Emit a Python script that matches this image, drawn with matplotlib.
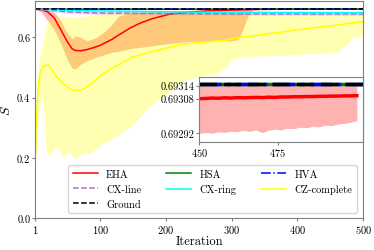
import numpy as np
import matplotlib
matplotlib.use("Agg")
import matplotlib.pyplot as plt

plt.rcParams['font.family'] = 'serif'
plt.rcParams['font.serif'] = ['cmr10', 'DejaVu Serif']
plt.rcParams['mathtext.fontset'] = 'cm'
plt.rcParams['axes.formatter.use_mathtext'] = True

# ground state value
ground_s = 0.693147

# EHA
eha_it = [1, 10, 20, 30, 40, 45, 50, 57, 62, 70, 80, 92, 100, 108, 118, 128, 145, 160, 180,
          207, 240, 270, 300, 310, 316, 322, 327, 332, 350, 400, 450, 500]
eha_mean = [0.6931, 0.6915, 0.684, 0.664, 0.625, 0.605, 0.585, 0.562, 0.556, 0.555, 0.559, 0.567,
            0.573, 0.582, 0.593, 0.607, 0.630, 0.646, 0.662, 0.677, 0.684, 0.688, 0.690, 0.6905,
            0.691, 0.691, 0.6915, 0.692, 0.6925, 0.6929, 0.69308, 0.69309]
eha_lo = [0.6931, 0.684, 0.655, 0.625, 0.578, 0.553, 0.525, 0.498, 0.495, 0.510, 0.522, 0.533,
          0.538, 0.543, 0.550, 0.553, 0.562, 0.566, 0.572, 0.580, 0.586, 0.588, 0.588, 0.592,
          0.620, 0.655, 0.680, 0.690, 0.6915, 0.6925, 0.69292, 0.69298]
eha_hi = [0.6931, 0.6931, 0.690, 0.683, 0.655, 0.632, 0.613, 0.595, 0.605, 0.600, 0.588, 0.597,
          0.608, 0.622, 0.643, 0.670, 0.680, 0.683, 0.685, 0.687, 0.689, 0.690, 0.692, 0.692,
          0.692, 0.6925, 0.693, 0.693, 0.6931, 0.6931, 0.69315, 0.69315]

# HSA / HVA
hsa_it = [1, 100, 200, 300, 400, 500]
hsa_mean = [0.69314, 0.69314, 0.69315, 0.69315, 0.69315, 0.69315]
hva_it = [1, 100, 200, 300, 400, 500]
hva_mean = [0.69314, 0.69314, 0.69315, 0.69315, 0.69315, 0.69315]

# CX-line
cxl_it = [1, 20, 50, 100, 200, 300, 500]
cxl_mean = [0.6931, 0.690, 0.684, 0.680, 0.678, 0.677, 0.677]
cxl_lo = [0.6931, 0.687, 0.679, 0.675, 0.674, 0.673, 0.673]
cxl_hi = [0.6931, 0.692, 0.689, 0.686, 0.683, 0.682, 0.682]

# CX-ring
cxr_it = [1, 50, 100, 200, 300, 500]
cxr_mean = [0.6931, 0.689, 0.687, 0.684, 0.682, 0.681]
cxr_lo = [0.6931, 0.686, 0.683, 0.678, 0.674, 0.672]
cxr_hi = [0.6931, 0.692, 0.691, 0.689, 0.688, 0.688]

# CZ-complete
cz_it = [1, 3, 5, 8, 12, 15, 18, 22, 27, 33, 40, 43, 48, 53, 58, 63, 70, 76, 85, 99, 120,
         150, 175, 212, 225, 250, 275, 290, 300, 315, 375, 420, 460, 475, 485, 500]
cz_mean = [0.18, 0.33, 0.42, 0.475, 0.50, 0.505, 0.507, 0.507, 0.49, 0.47, 0.455, 0.448, 0.438,
           0.43, 0.425, 0.423, 0.425, 0.43, 0.442, 0.47, 0.50, 0.535, 0.55, 0.57, 0.577, 0.582,
           0.587, 0.59, 0.595, 0.60, 0.617, 0.63, 0.64, 0.645, 0.648, 0.652]
cz_lo = [0.17, 0.25, 0.31, 0.37, 0.40, 0.33, 0.22, 0.205, 0.22, 0.236, 0.22, 0.195, 0.215,
         0.22, 0.205, 0.195, 0.21, 0.215, 0.215, 0.24, 0.265, 0.31, 0.37, 0.43, 0.455, 0.47,
         0.478, 0.50, 0.525, 0.535, 0.54, 0.545, 0.55, 0.575, 0.60, 0.60]
cz_hi = [0.19, 0.35, 0.47, 0.53, 0.57, 0.61, 0.64, 0.655, 0.663, 0.666, 0.668, 0.670, 0.668,
         0.667, 0.666, 0.666, 0.668, 0.670, 0.673, 0.676, 0.678, 0.679, 0.680, 0.680, 0.680,
         0.680, 0.680, 0.680, 0.680, 0.678, 0.675, 0.673, 0.673, 0.673, 0.673, 0.673]

# inset data (EHA, last iterations)
ins_it = list(range(450, 501, 2))
ins_mean = [0.693080, 0.693081, 0.693083, 0.693082, 0.693084, 0.693083, 0.693085, 0.693084,
            0.693085, 0.693086, 0.693085, 0.693087, 0.693086, 0.693088, 0.693088, 0.693089,
            0.693089, 0.693090, 0.693090, 0.693091, 0.693091, 0.693092, 0.693092, 0.693093,
            0.693093, 0.693094]
ins_lo = [0.692920, 0.692924, 0.692921, 0.692927, 0.692925, 0.692930, 0.692928, 0.692934,
          0.692930, 0.692936, 0.692924, 0.692935, 0.692940, 0.692936, 0.692944, 0.692942,
          0.692949, 0.692946, 0.692953, 0.692950, 0.692958, 0.692956, 0.692963, 0.692966,
          0.692972, 0.692978]

fig = plt.figure(figsize=(3.74, 2.51), dpi=100)
ax = fig.add_axes([0.094, 0.127, 0.877, 0.865])

ax.plot(eha_it, eha_mean, color='red', lw=1.1, label='EHA')
ax.fill_between(eha_it, eha_lo, eha_hi, color='red', alpha=0.3, lw=0)
ax.plot(hsa_it, hsa_mean, color='green', lw=1.1, label='HSA')
ax.plot(hva_it, hva_mean, color='blue', lw=1.1, ls='-.', label='HVA')
ax.plot(cxl_it, cxl_mean, color='#b36fc6', lw=1.1, ls='--', label='CX-line')
ax.fill_between(cxl_it, cxl_lo, cxl_hi, color='#b36fc6', alpha=0.25, lw=0)
ax.plot(cxr_it, cxr_mean, color='cyan', lw=1.1, label='CX-ring')
ax.fill_between(cxr_it, cxr_lo, cxr_hi, color='cyan', alpha=0.2, lw=0)
ax.plot(cz_it, cz_mean, color='yellow', lw=1.1, label='CZ-complete')
ax.fill_between(cz_it, cz_lo, cz_hi, color='yellow', alpha=0.3, lw=0)
ax.axhline(ground_s, color='black', lw=1.1, ls='--', label='Ground')

ax.set_xlim(1, 500)
ax.set_ylim(0, 0.72)
ax.set_xticks([1, 100, 200, 300, 400, 500])
ax.set_yticks([0.0, 0.2, 0.4, 0.6])
ax.set_yticklabels(['0.0', '0.2', '0.4', '0.6'])
ax.tick_params(labelsize=7.5, length=2, color='gray', pad=1.5)
ax.set_xlabel('Iteration', fontsize=9, labelpad=0)
ax.set_ylabel('$S$', fontsize=10, labelpad=3)
for sp in ax.spines.values():
    sp.set_color('gray')

h, l = ax.get_legend_handles_labels()
order = ['EHA', 'CX-line', 'Ground', 'HSA', 'CX-ring', 'HVA', 'CZ-complete']
hd = dict(zip(l, h))
ax.legend([hd[k] for k in order], order, ncol=3, fontsize=7.5, loc='lower right',
          bbox_to_anchor=(0.98, 0.025), borderaxespad=0, handlelength=2.4, columnspacing=2.4)

# inset
axins = ax.inset_axes([0.5, 0.35, 0.5, 0.30])
axins.fill_between(ins_it, ins_lo, [ground_s] * len(ins_it), color='red', alpha=0.3, lw=0)
axins.plot(ins_it, ins_mean, color='red', lw=2.5)
axins.plot([450, 502], [ground_s, ground_s], color='green', lw=2.5)
axins.plot([450, 502], [ground_s, ground_s], color='blue', lw=2.5, ls='-.')
axins.plot([450, 502], [ground_s, ground_s], color='black', lw=2.5, ls=(0, (5, 2)))
axins.set_xlim(450, 502)
axins.set_ylim(0.69288, 0.69318)
axins.set_xticks([450, 475])
axins.set_yticks([0.69292, 0.69308, 0.69314])
axins.set_yticklabels(['0.69292', '0.69308', '0.69314'])
axins.tick_params(labelsize=7.5, length=2, color='gray', pad=1)
for sp in axins.spines.values():
    sp.set_color('gray')

fig.savefig('out.png', dpi=100)
